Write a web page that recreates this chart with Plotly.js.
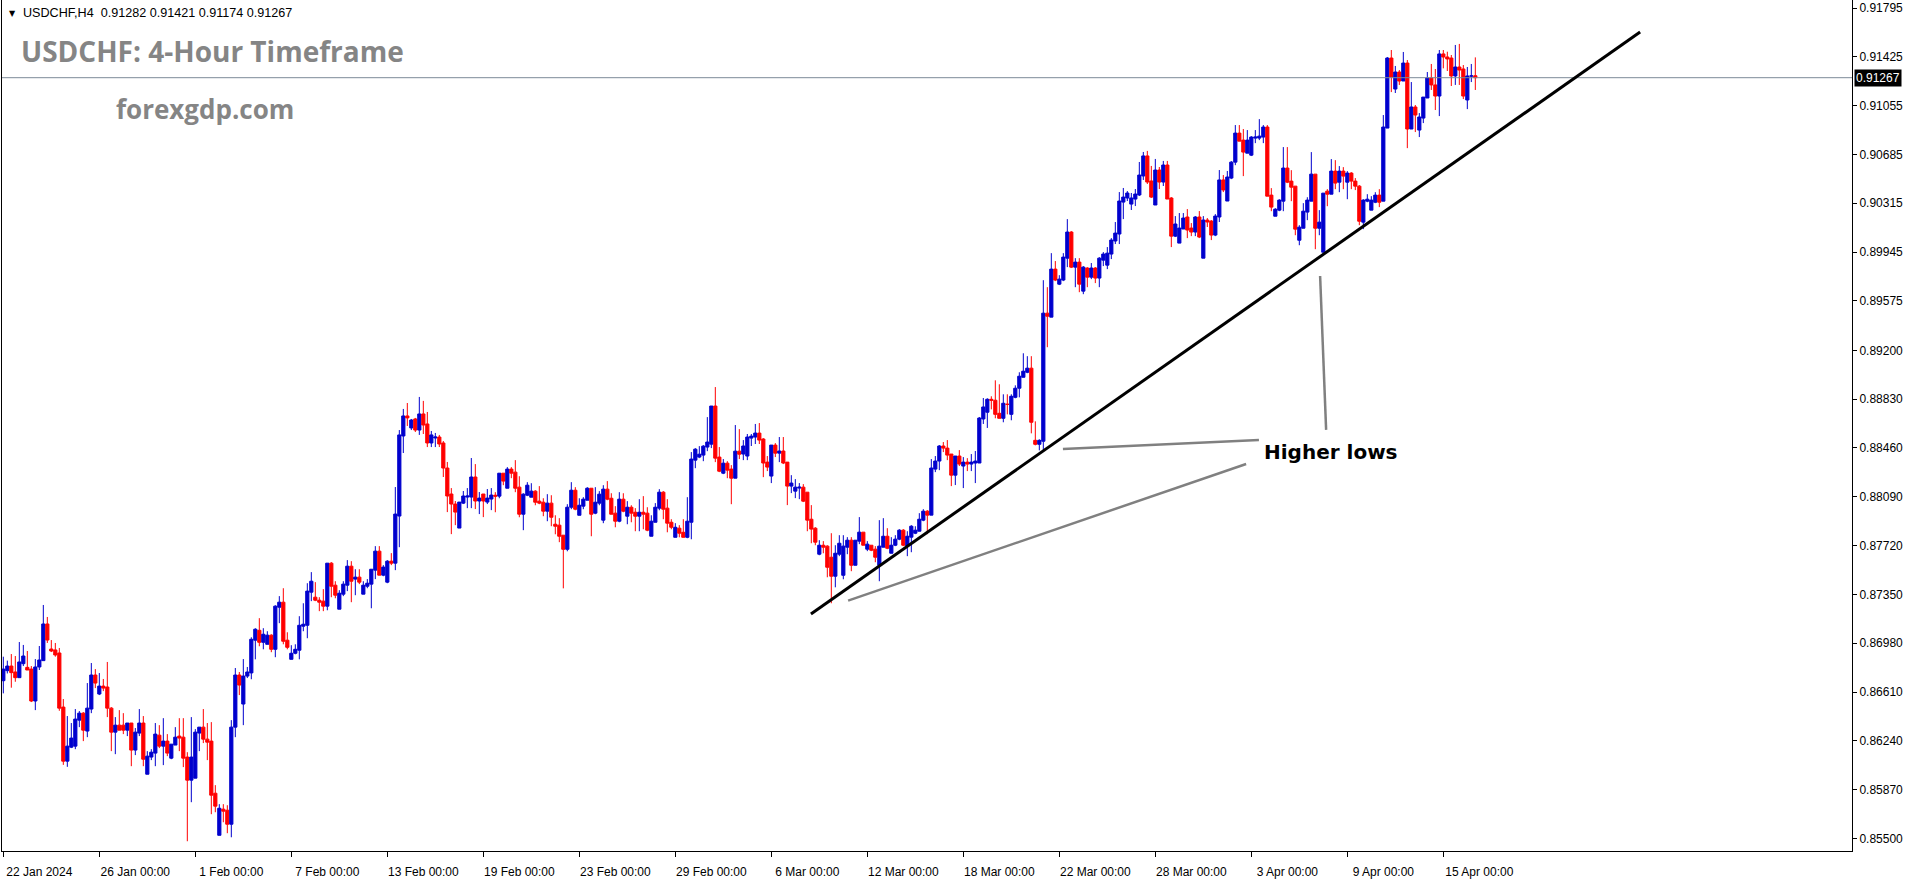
<!DOCTYPE html>
<html><head><meta charset="utf-8">
<script src="https://cdn.plot.ly/plotly-3.0.1.min.js"></script>
<style>html,body{margin:0;padding:0;background:#fff;overflow:hidden}#chart{width:1916px;height:884px}</style>
</head><body><div id="chart"></div>
<script>
// USDCHF H4 candles (bar index 0 = 22 Jan 2024 00:00)
const opens = [
0.86696,0.86772,0.86807,0.86762,0.86719,0.86825,0.86797,0.86784,0.86542,0.86800,
0.86848,0.87126,0.86936,0.86929,0.86906,0.86496,0.86086,0.86192,0.86200,0.86397,
0.86450,0.86314,0.86481,0.86739,0.86595,0.86655,0.86648,0.86488,0.86306,0.86359,
0.86359,0.86321,0.86375,0.86170,0.86299,0.86375,0.85987,0.86117,0.86147,0.86283,
0.86200,0.86238,0.86109,0.86208,0.86276,0.86268,0.86117,0.85942,0.85957,0.86299,
0.86344,0.86253,0.86238,0.85843,0.85524,0.85722,0.85714,0.85608,0.86344,0.86739,
0.86519,0.86731,0.86755,0.87003,0.87078,0.86987,0.86972,0.87041,0.86934,0.87253,
0.87291,0.87003,0.86858,0.86904,0.86927,0.87109,0.87116,0.87367,0.87329,0.87306,
0.87299,0.87261,0.87587,0.87420,0.87238,0.87352,0.87420,0.87564,0.87466,0.87481,
0.87352,0.87412,0.87428,0.87534,0.87678,0.87496,0.87443,0.87602,0.87587,0.87944,
0.88551,0.88703,0.88612,0.88680,0.88596,0.88718,0.88642,0.88498,0.88536,0.88543,
0.88498,0.88308,0.88111,0.88035,0.87853,0.88042,0.88088,0.88088,0.88240,0.88058,
0.88111,0.88050,0.88073,0.88102,0.88095,0.88269,0.88155,0.88300,0.88277,0.88163,
0.87958,0.88102,0.88087,0.88133,0.88057,0.88049,0.87981,0.88042,0.87882,0.87875,
0.87799,0.87692,0.88011,0.88140,0.87950,0.88019,0.88064,0.88155,0.87966,0.88042,
0.87913,0.88148,0.88079,0.87966,0.87905,0.88072,0.87943,0.88011,0.87973,0.87943,
0.87973,0.87966,0.87791,0.87897,0.88004,0.88125,0.88004,0.87897,0.87783,0.87852,
0.87821,0.87783,0.87897,0.88368,0.88391,0.88406,0.88467,0.88489,0.88778,0.88391,
0.88269,0.88345,0.88300,0.88231,0.88436,0.88414,0.88399,0.88535,0.88543,0.88573,
0.88528,0.88353,0.88247,0.88482,0.88421,0.88437,0.88353,0.88171,0.88133,0.88156,
0.88163,0.88125,0.87920,0.87852,0.87655,0.87723,0.87716,0.87632,0.87488,0.87655,
0.87495,0.87708,0.87761,0.87571,0.87754,0.87822,0.87693,0.87723,0.87693,0.87571,
0.87708,0.87791,0.87662,0.87723,0.87769,0.87837,0.87716,0.87784,0.87814,0.87829,
0.87913,0.87981,0.87951,0.88300,0.88361,0.88475,0.88459,0.88414,0.88254,0.88399,
0.88323,0.88353,0.88338,0.88346,0.88346,0.88680,0.88731,0.88829,0.88822,0.88723,
0.88685,0.88791,0.88715,0.88844,0.88913,0.88996,0.89034,0.89065,0.88518,0.88488,
0.88511,0.89482,0.89452,0.89816,0.89702,0.89733,0.89899,0.90097,0.89831,0.89869,
0.89649,0.89824,0.89755,0.89824,0.89748,0.89884,0.89846,0.89930,0.90029,0.90082,
0.90324,0.90355,0.90309,0.90347,0.90378,0.90522,0.90674,0.90484,0.90302,0.90567,
0.90476,0.90605,0.90355,0.90066,0.90013,0.90120,0.90211,0.90127,0.90097,0.90211,
0.89899,0.90188,0.90180,0.90074,0.90211,0.90492,0.90332,0.90506,0.90627,0.90847,
0.90794,0.90695,0.90680,0.90809,0.90809,0.90817,0.90893,0.90377,0.90217,0.90263,
0.90331,0.90582,0.90483,0.90445,0.90035,0.90126,0.90248,0.90331,0.90536,0.90126,
0.89944,0.90407,0.90384,0.90559,0.90475,0.90559,0.90475,0.90544,0.90483,0.90445,
0.90172,0.90331,0.90263,0.90323,0.90377,0.90331,0.90885,0.91416,0.91181,0.91310,
0.91242,0.91378,0.90878,0.91045,0.90870,0.90961,0.91113,0.91265,0.91212,0.91128,
0.91447,0.91424,0.91416,0.91280,0.91348,0.91333,0.91098,0.91280,0.91282];
const highs = [
0.86878,0.86848,0.86898,0.86883,0.86989,0.86967,0.86921,0.86807,0.86860,0.86959,
0.87270,0.87179,0.87004,0.86982,0.86944,0.86557,0.86428,0.86375,0.86481,0.86466,
0.86458,0.86678,0.86830,0.86784,0.86754,0.86709,0.86838,0.86496,0.86420,0.86473,
0.86450,0.86375,0.86375,0.86337,0.86481,0.86428,0.86162,0.86177,0.86375,0.86359,
0.86412,0.86291,0.86215,0.86344,0.86412,0.86412,0.86154,0.86420,0.86329,0.86344,
0.86481,0.86375,0.86382,0.85904,0.85760,0.85760,0.85752,0.86397,0.86792,0.86762,
0.86860,0.86800,0.87025,0.87094,0.87170,0.87094,0.87071,0.87048,0.87268,0.87337,
0.87397,0.87063,0.86965,0.86972,0.87185,0.87283,0.87435,0.87519,0.87443,0.87329,
0.87390,0.87587,0.87595,0.87450,0.87382,0.87450,0.87610,0.87602,0.87541,0.87541,
0.87450,0.87466,0.87541,0.87716,0.87716,0.87572,0.87610,0.87663,0.88164,0.88596,
0.88756,0.88801,0.88680,0.88688,0.88847,0.88817,0.88733,0.88589,0.88574,0.88559,
0.88513,0.88354,0.88156,0.88058,0.88050,0.88134,0.88156,0.88384,0.88338,0.88126,
0.88111,0.88149,0.88156,0.88125,0.88269,0.88269,0.88315,0.88315,0.88368,0.88246,
0.88117,0.88201,0.88193,0.88140,0.88171,0.88079,0.88110,0.88102,0.87950,0.87928,
0.87799,0.88034,0.88201,0.88163,0.88079,0.88087,0.88163,0.88155,0.88163,0.88133,
0.88178,0.88209,0.88117,0.88019,0.88125,0.88117,0.88057,0.88026,0.88004,0.88072,
0.88095,0.88011,0.87950,0.88042,0.88148,0.88133,0.88072,0.87920,0.87890,0.87875,
0.87920,0.88087,0.88429,0.88459,0.88474,0.88482,0.88694,0.88778,0.88922,0.88467,
0.88376,0.88360,0.88330,0.88634,0.88603,0.88520,0.88566,0.88566,0.88642,0.88649,
0.88535,0.88399,0.88482,0.88497,0.88543,0.88543,0.88353,0.88254,0.88224,0.88194,
0.88186,0.88125,0.88027,0.87860,0.87761,0.87754,0.87723,0.87814,0.87723,0.87799,
0.87799,0.87784,0.87784,0.87761,0.87936,0.87822,0.87754,0.87723,0.87716,0.87913,
0.87928,0.87852,0.87784,0.87799,0.87845,0.87845,0.87829,0.87875,0.87867,0.87966,
0.87996,0.87989,0.88376,0.88399,0.88482,0.88505,0.88520,0.88414,0.88399,0.88444,
0.88391,0.88383,0.88414,0.88437,0.88695,0.88839,0.88837,0.88852,0.88973,0.88943,
0.88867,0.88867,0.88867,0.88935,0.89034,0.89178,0.89156,0.89156,0.88662,0.88526,
0.89732,0.89679,0.89937,0.89877,0.89770,0.89937,0.90195,0.90104,0.89899,0.89899,
0.89839,0.89831,0.89862,0.89831,0.89907,0.89945,0.89983,0.90051,0.90173,0.90400,
0.90431,0.90408,0.90393,0.90423,0.90628,0.90704,0.90712,0.90598,0.90651,0.90590,
0.90636,0.90636,0.90362,0.90218,0.90241,0.90241,0.90271,0.90165,0.90218,0.90256,
0.90218,0.90203,0.90188,0.90233,0.90567,0.90529,0.90560,0.90635,0.90908,0.90908,
0.90878,0.90870,0.90824,0.90870,0.90953,0.90908,0.90908,0.90430,0.90278,0.90346,
0.90741,0.90741,0.90566,0.90445,0.90149,0.90316,0.90361,0.90703,0.90536,0.90263,
0.90392,0.90422,0.90650,0.90642,0.90597,0.90589,0.90559,0.90551,0.90506,0.90453,
0.90346,0.90384,0.90369,0.90399,0.90422,0.90984,0.91424,0.91477,0.91356,0.91325,
0.91462,0.91401,0.91234,0.91060,0.90999,0.91120,0.91310,0.91371,0.91333,0.91477,
0.91477,0.91464,0.91439,0.91515,0.91523,0.91363,0.91348,0.91371,0.91421];
const lows = [
0.86600,0.86751,0.86643,0.86688,0.86719,0.86807,0.86777,0.86534,0.86473,0.86777,
0.86848,0.86982,0.86913,0.86878,0.86468,0.86058,0.86043,0.86185,0.86177,0.86344,
0.86238,0.86268,0.86450,0.86640,0.86587,0.86617,0.86420,0.86162,0.86139,0.86321,
0.86291,0.86276,0.86048,0.86132,0.86276,0.86048,0.85987,0.86094,0.86048,0.86185,
0.86056,0.86124,0.86101,0.86208,0.86162,0.86041,0.85479,0.85775,0.85957,0.86162,
0.86223,0.86094,0.85684,0.85699,0.85524,0.85623,0.85540,0.85509,0.86268,0.86587,
0.86359,0.86716,0.86707,0.86858,0.86957,0.86934,0.86972,0.86912,0.86874,0.87132,
0.86972,0.86934,0.86858,0.86896,0.86858,0.87071,0.87018,0.87299,0.87299,0.87223,
0.87223,0.87230,0.87329,0.87321,0.87238,0.87337,0.87375,0.87291,0.87344,0.87428,
0.87352,0.87397,0.87245,0.87466,0.87496,0.87488,0.87435,0.87572,0.87534,0.87708,
0.88422,0.88627,0.88596,0.88581,0.88559,0.88566,0.88467,0.88467,0.88467,0.88467,
0.88240,0.87974,0.87807,0.87875,0.87853,0.88035,0.88004,0.88004,0.87997,0.87959,
0.87936,0.88035,0.87989,0.87973,0.88079,0.88178,0.88155,0.88231,0.88125,0.87935,
0.87837,0.88095,0.88087,0.88026,0.88034,0.87943,0.87905,0.87867,0.87806,0.87746,
0.87396,0.87677,0.87996,0.87988,0.87950,0.87996,0.88064,0.87791,0.87958,0.88026,
0.87890,0.88064,0.87958,0.87859,0.87897,0.87973,0.87882,0.87897,0.87829,0.87829,
0.87844,0.87829,0.87791,0.87897,0.87988,0.87920,0.87821,0.87844,0.87783,0.87783,
0.87783,0.87776,0.87768,0.88307,0.88383,0.88360,0.88436,0.88459,0.88353,0.88277,
0.88262,0.88231,0.88034,0.88231,0.88376,0.88368,0.88368,0.88475,0.88490,0.88490,
0.88239,0.88285,0.88194,0.88391,0.88353,0.88338,0.88027,0.88118,0.88080,0.88072,
0.88050,0.87829,0.87738,0.87723,0.87647,0.87662,0.87480,0.87283,0.87404,0.87640,
0.87465,0.87655,0.87526,0.87571,0.87731,0.87723,0.87678,0.87678,0.87594,0.87450,
0.87708,0.87693,0.87662,0.87716,0.87761,0.87716,0.87640,0.87670,0.87807,0.87829,
0.87905,0.87807,0.87951,0.88277,0.88292,0.88429,0.88368,0.88171,0.88179,0.88323,
0.88156,0.88285,0.88285,0.88194,0.88346,0.88642,0.88612,0.88753,0.88685,0.88685,
0.88655,0.88715,0.88670,0.88837,0.88844,0.88996,0.89027,0.88571,0.88480,0.88442,
0.88435,0.89224,0.89452,0.89725,0.89695,0.89725,0.89831,0.89824,0.89679,0.89641,
0.89626,0.89679,0.89740,0.89710,0.89679,0.89839,0.89816,0.89892,0.90006,0.90006,
0.90195,0.90332,0.90264,0.90294,0.90370,0.90492,0.90461,0.90355,0.90302,0.90423,
0.90446,0.90347,0.89983,0.90059,0.90013,0.90120,0.90051,0.90066,0.90066,0.90051,
0.89899,0.90135,0.90036,0.90066,0.90173,0.90400,0.90332,0.90498,0.90604,0.90786,
0.90521,0.90695,0.90673,0.90771,0.90794,0.90771,0.90369,0.90255,0.90217,0.90255,
0.90255,0.90468,0.90331,0.90073,0.89997,0.90126,0.90187,0.90331,0.89967,0.90073,
0.89944,0.90293,0.90384,0.90422,0.90399,0.90422,0.90346,0.90422,0.90415,0.90149,
0.90119,0.90323,0.90263,0.90316,0.90286,0.90331,0.90885,0.91158,0.91151,0.91212,
0.91242,0.90733,0.90878,0.90855,0.90817,0.90923,0.91113,0.91174,0.91022,0.90976,
0.91338,0.91318,0.91204,0.91212,0.91212,0.91105,0.91029,0.91234,0.91174];
const closes = [
0.86784,0.86807,0.86757,0.86719,0.86838,0.86883,0.86777,0.86542,0.86800,0.86853,
0.87126,0.87004,0.86921,0.86891,0.86488,0.86086,0.86200,0.86261,0.86405,0.86450,
0.86321,0.86488,0.86739,0.86678,0.86655,0.86640,0.86488,0.86306,0.86359,0.86321,
0.86321,0.86375,0.86170,0.86306,0.86375,0.86101,0.86124,0.86154,0.86291,0.86200,
0.86238,0.86147,0.86215,0.86268,0.86261,0.86109,0.85942,0.86117,0.86306,0.86344,
0.86253,0.86230,0.85828,0.85745,0.85729,0.85707,0.85608,0.86344,0.86739,0.86663,
0.86731,0.86762,0.87010,0.87086,0.86987,0.87048,0.87041,0.86934,0.87261,0.87291,
0.86995,0.86949,0.86904,0.86934,0.87116,0.87124,0.87375,0.87450,0.87306,0.87291,
0.87261,0.87587,0.87412,0.87344,0.87359,0.87428,0.87564,0.87450,0.87481,0.87443,
0.87420,0.87435,0.87541,0.87678,0.87496,0.87557,0.87602,0.87587,0.87959,0.88559,
0.88703,0.88688,0.88672,0.88596,0.88718,0.88634,0.88498,0.88559,0.88543,0.88490,
0.88308,0.88096,0.88035,0.87974,0.88050,0.88096,0.88096,0.88240,0.88058,0.88080,
0.88058,0.88080,0.88103,0.88095,0.88269,0.88209,0.88300,0.88269,0.88155,0.87958,
0.88110,0.88178,0.88133,0.88049,0.88042,0.87981,0.88042,0.87935,0.87867,0.87791,
0.87692,0.88011,0.88140,0.87996,0.88026,0.88072,0.88155,0.87958,0.88049,0.88110,
0.88148,0.88072,0.87958,0.87905,0.88072,0.87981,0.88011,0.87966,0.87943,0.87973,
0.87958,0.87837,0.87905,0.88011,0.88125,0.87996,0.87890,0.87859,0.87859,0.87814,
0.87783,0.87905,0.88376,0.88451,0.88413,0.88474,0.88505,0.88778,0.88383,0.88284,
0.88345,0.88292,0.88231,0.88436,0.88413,0.88475,0.88543,0.88550,0.88573,0.88520,
0.88346,0.88315,0.88482,0.88421,0.88437,0.88346,0.88171,0.88194,0.88163,0.88163,
0.88057,0.87913,0.87845,0.87746,0.87723,0.87708,0.87556,0.87488,0.87662,0.87738,
0.87716,0.87761,0.87571,0.87761,0.87822,0.87723,0.87731,0.87685,0.87632,0.87716,
0.87791,0.87700,0.87723,0.87769,0.87837,0.87723,0.87791,0.87867,0.87837,0.87920,
0.87981,0.87951,0.88308,0.88361,0.88475,0.88459,0.88406,0.88254,0.88399,0.88338,
0.88353,0.88338,0.88353,0.88361,0.88687,0.88771,0.88829,0.88822,0.88715,0.88685,
0.88799,0.88791,0.88852,0.88913,0.89004,0.89042,0.89065,0.88655,0.88488,0.88518,
0.89482,0.89459,0.89816,0.89733,0.89740,0.89907,0.90097,0.89831,0.89869,0.89702,
0.89831,0.89755,0.89824,0.89748,0.89899,0.89930,0.89937,0.90036,0.90089,0.90332,
0.90362,0.90393,0.90355,0.90385,0.90529,0.90674,0.90476,0.90362,0.90567,0.90476,
0.90605,0.90347,0.90066,0.90158,0.90127,0.90203,0.90112,0.90097,0.90211,0.90059,
0.90188,0.90173,0.90074,0.90218,0.90492,0.90416,0.90514,0.90627,0.90847,0.90786,
0.90703,0.90794,0.90817,0.90817,0.90824,0.90893,0.90369,0.90286,0.90270,0.90339,
0.90582,0.90475,0.90437,0.90119,0.90134,0.90255,0.90339,0.90536,0.90126,0.90172,
0.90392,0.90384,0.90559,0.90468,0.90559,0.90521,0.90544,0.90483,0.90445,0.90179,
0.90339,0.90346,0.90339,0.90377,0.90323,0.90893,0.91416,0.91272,0.91310,0.91242,
0.91378,0.90878,0.91045,0.90984,0.90969,0.91120,0.91265,0.91212,0.91128,0.91447,
0.91424,0.91409,0.91280,0.91348,0.91325,0.91128,0.91280,0.91280,0.91267];

const dateTickIndex = [0,24,48,72,96,120,144,168,192,216,240,264,288,312,336,360];
const dateTickLabels = ['22 Jan 2024','26 Jan 00:00','1 Feb 00:00','7 Feb 00:00','13 Feb 00:00','19 Feb 00:00','23 Feb 00:00','29 Feb 00:00','6 Mar 00:00','12 Mar 00:00','18 Mar 00:00','22 Mar 00:00','28 Mar 00:00','3 Apr 00:00','9 Apr 00:00','15 Apr 00:00'];
const priceTicks = [0.91795,0.91425,0.91055,0.90685,0.90315,0.89945,0.89575,0.89200,0.88830,0.88460,0.88090,0.87720,0.87350,0.86980,0.86610,0.86240,0.85870,0.85500];
const priceTickLabels = ['0.91795','0.91425','0.91055','0.90685','0.90315','0.89945','0.89575','0.89200','0.88830','0.88460','0.88090','0.87720','0.87350','0.86980','0.86610','0.86240','0.85870','0.85500'];
const lastPrice = 0.91267;
const headerText = 'USDCHF,H4  0.91282 0.91421 0.91174 0.91267';
const titleText = 'USDCHF: 4-Hour Timeframe';
const siteText = 'forexgdp.com';
const noteText = 'Higher lows';
// drawn lines, in (bar index, price)
const trendX = [201.9, 409.2], trendY = [0.87202, 0.91613];
const lowLine1X = [211.2, 310.7], lowLine1Y = [0.87303, 0.88339];
const lowLine2X = [264.9, 313.9], lowLine2Y = [0.88453, 0.88521];
const pointerX = [329.2, 330.7], pointerY = [0.89764, 0.88597];
const noteX = 314.7, noteY = 0.88430;

const barIndex = opens.map((_, i) => i);
const BLUE = '#0000CD', RED = '#FF0000';
const axisFont = {family: 'Liberation Sans, Arial, sans-serif', size: 12, color: '#000'};

const trace = {
  type: 'candlestick', x: barIndex, open: opens, high: highs, low: lows, close: closes,
  increasing: {line: {color: BLUE, width: 1}, fillcolor: BLUE},
  decreasing: {line: {color: RED, width: 1}, fillcolor: RED},
  whiskerwidth: 0, hoverinfo: 'skip', showlegend: false
};

function seg(xs, ys, color, width) {
  return {type: 'line', xref: 'x', yref: 'y', x0: xs[0], y0: ys[0], x1: xs[1], y1: ys[1],
          line: {color: color, width: width}};
}

const layout = {
  width: 1916, height: 884,
  margin: {l: 2, r: 64, t: 0, b: 33, pad: 0},
  paper_bgcolor: '#fff', plot_bgcolor: '#fff',
  showlegend: false, boxgap: 0.2, boxgroupgap: 0,
  xaxis: {
    type: 'linear', range: [-0.33, 462.17], showgrid: false, zeroline: false,
    showline: true, linecolor: '#000', linewidth: 1,
    ticks: 'outside', ticklen: 5, tickcolor: '#000', tickwidth: 1,
    tickvals: dateTickIndex, ticktext: dateTickLabels, tickfont: axisFont,
    ticklabelshift: 36, ticklabelstandoff: 5,
    rangeslider: {visible: false}, fixedrange: true
  },
  yaxis: {
    side: 'right', range: [0.85405, 0.91856], showgrid: false, zeroline: false,
    showline: true, mirror: true, linecolor: '#000', linewidth: 1,
    ticks: 'outside', ticklen: 4, tickcolor: '#000', tickwidth: 1,
    tickvals: priceTicks, ticktext: priceTickLabels, tickfont: axisFont,
    fixedrange: true
  },
  shapes: [
    {type: 'line', xref: 'paper', yref: 'y', x0: 0, x1: 1, y0: lastPrice, y1: lastPrice,
     line: {color: '#7d8a98', width: 1}},
    seg(lowLine1X, lowLine1Y, '#808080', 2.5),
    seg(lowLine2X, lowLine2Y, '#808080', 2.5),
    seg(pointerX, pointerY, '#808080', 2.5),
    seg(trendX, trendY, '#000000', 3)
  ],
  annotations: [
    {xref: 'paper', yref: 'y', x: 1, y: lastPrice, xanchor: 'left', yanchor: 'middle', xshift: 2,
     text: lastPrice.toFixed(5), showarrow: false, bgcolor: '#000', borderpad: 1,
     font: {family: 'Liberation Sans, Arial, sans-serif', size: 12, color: '#fff'}},
    {xref: 'paper', yref: 'paper', x: 0.0025, y: 0.9845, xanchor: 'left', yanchor: 'middle',
     text: '▼', showarrow: false, font: {family: 'DejaVu Sans', size: 8, color: '#000'}},
    {xref: 'paper', yref: 'paper', x: 0.0105, y: 0.9845, xanchor: 'left', yanchor: 'middle',
     text: headerText.replace('  ', '&nbsp;&nbsp;'), showarrow: false,
     font: {family: 'Liberation Sans, Arial, sans-serif', size: 12.6, color: '#000'}},
    {xref: 'paper', yref: 'paper', x: 0.0092, y: 0.9400, xanchor: 'left', yanchor: 'middle',
     text: '<b>' + titleText + '</b>', showarrow: false,
     font: {family: 'Open Sans, sans-serif', size: 28, color: '#858585'}},
    {xref: 'paper', yref: 'paper', x: 0.0605, y: 0.8725, xanchor: 'left', yanchor: 'middle',
     text: '<b>' + siteText + '</b>', showarrow: false,
     font: {family: 'Open Sans, sans-serif', size: 26, color: '#858585'}},
    {xref: 'x', yref: 'y', x: noteX, y: noteY, xanchor: 'left', yanchor: 'middle',
     text: '<b>' + noteText + '</b>', showarrow: false,
     font: {family: 'DejaVu Sans, sans-serif', size: 20, color: '#000'}}
  ]
};

Plotly.newPlot('chart', [trace], layout, {staticPlot: true, displayModeBar: false});
</script>
</body></html>
